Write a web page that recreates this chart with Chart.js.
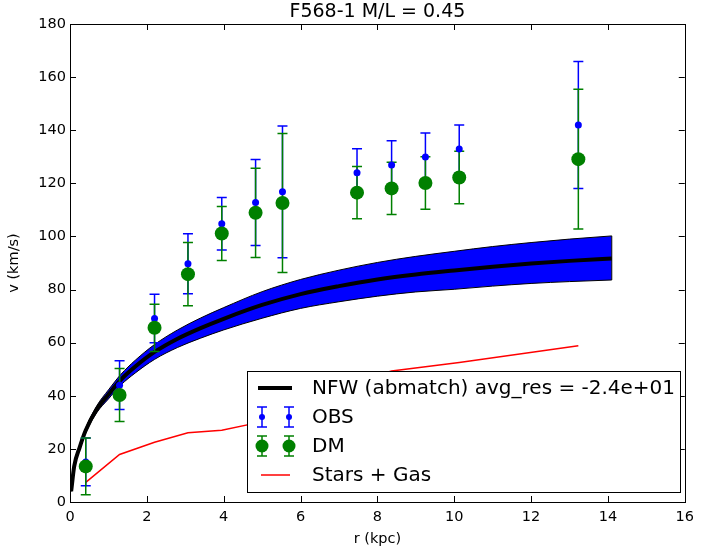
<!DOCTYPE html>
<html>
<head>
<meta charset="utf-8">
<script src="https://cdn.jsdelivr.net/npm/chart.js@4"></script>
<style>
html, body { margin: 0; padding: 0; background: #fff; }
</style>
</head>
<body>
<canvas id="myChart" width="701" height="552"></canvas>
<script>
// DATA
var radius   = [0.41, 1.29, 2.2, 3.07, 3.95, 4.83, 5.53, 7.47, 8.37, 9.25, 10.13, 13.23];
var obsVel   = [15.1, 44.0, 69.1, 89.7, 104.8, 112.8, 116.8, 124.0, 126.9, 129.9, 132.9, 142.0];
var obsErr   = [9.0, 9.2, 9.1, 11.3, 9.9, 16.2, 24.8, 9.0, 9.1, 9.1, 9.1, 23.9];
var dmVel    = [13.4, 40.3, 65.6, 85.8, 101.1, 108.9, 112.6, 116.5, 118.1, 120.1, 122.2, 129.1];
var dmErr    = [10.7, 10.0, 8.9, 11.9, 10.2, 16.8, 26.2, 9.8, 9.8, 9.9, 9.9, 26.3];
var starsGas = [7.4, 17.9, 22.5, 26.1, 27.0, 29.7, 35.0, 45.5, 49.3, 50.9, 52.5, 58.8];

var nfwRadius = [0.03, 0.11, 0.25, 0.41, 0.7, 1.0, 1.32, 1.7, 2.2, 2.8, 3.4, 4.0, 5.0, 6.0, 7.0, 8.0, 9.0, 10.0, 11.0, 12.0, 13.0, 14.1];
var nfwVel    = [4.0, 13.5, 20.5, 27.0, 35.0, 40.5, 46.0, 51.0, 56.5, 61.5, 65.5, 69.0, 74.2, 78.3, 81.3, 83.8, 85.7, 87.2, 88.6, 89.8, 90.8, 91.7];
var nfwUpper  = [4.0, 13.8, 21.1, 27.9, 36.3, 42.2, 48.0, 53.4, 59.3, 64.8, 69.3, 73.2, 79.2, 83.8, 87.3, 90.2, 92.5, 94.4, 96.2, 97.7, 99.0, 100.2];
var nfwLower  = [4.0, 13.2, 19.9, 26.1, 33.7, 38.8, 44.0, 48.6, 53.7, 58.2, 61.7, 64.8, 69.2, 72.9, 75.4, 77.5, 79.1, 80.1, 81.3, 82.3, 83.0, 83.6];

var titleText = 'F568-1 M/L = 0.45';
var legendLabels = ['NFW (abmatch) avg_res = -2.4e+01', 'OBS', 'DM', 'Stars + Gas'];

var FONT = 'DejaVu Sans';

function pts(xs, ys) {
    return xs.map(function (v, i) { return { x: v, y: ys[i] }; });
}

function drawErrBar(ctx, px, top, bottom, color) {
    ctx.strokeStyle = color;
    ctx.lineWidth = 1.5;
    ctx.beginPath();
    ctx.moveTo(px, top); ctx.lineTo(px, bottom);
    ctx.moveTo(px - 5, top); ctx.lineTo(px + 5, top);
    ctx.moveTo(px - 5, bottom); ctx.lineTo(px + 5, bottom);
    ctx.stroke();
}

// band end edge + error bars (drawn just before the OBS markers)
var errorBars = {
    id: 'errorBars',
    afterDatasetDraw: function (chart, args) {
        if (args.index !== 3) return;
        var ctx = chart.ctx, x = chart.scales.x, y = chart.scales.y;
        var n = nfwRadius.length - 1;
        var px = x.getPixelForValue(nfwRadius[n]);
        ctx.save();
        ctx.strokeStyle = '#000';
        ctx.lineWidth = 1;
        ctx.beginPath();
        ctx.moveTo(px, y.getPixelForValue(nfwUpper[n]));
        ctx.lineTo(px, y.getPixelForValue(nfwLower[n]));
        ctx.stroke();
        ctx.restore();
    },
    beforeDatasetDraw: function (chart, args) {
        if (args.index !== 0) return;
        var ctx = chart.ctx, x = chart.scales.x, y = chart.scales.y;
        ctx.save();
        radius.forEach(function (r, i) {
            var px = x.getPixelForValue(r);
            drawErrBar(ctx, px, y.getPixelForValue(obsVel[i] + obsErr[i]), y.getPixelForValue(obsVel[i] - obsErr[i]), '#0000ff');
        });
        radius.forEach(function (r, i) {
            var px = x.getPixelForValue(r);
            drawErrBar(ctx, px, y.getPixelForValue(dmVel[i] + dmErr[i]), y.getPixelForValue(dmVel[i] - dmErr[i]), '#008000');
        });
        ctx.restore();
    }
};

// title, frame with inward ticks, legend box
var frameAndLegend = {
    id: 'frameAndLegend',
    afterDraw: function (chart) {
        var ctx = chart.ctx, a = chart.chartArea, x = chart.scales.x, y = chart.scales.y;
        ctx.save();
        ctx.fillStyle = '#000';
        ctx.font = '19px "' + FONT + '"';
        ctx.textAlign = 'center';
        ctx.textBaseline = 'middle';
        ctx.fillText(titleText, (a.left + a.right) / 2, 12);

        ctx.strokeStyle = '#000';
        ctx.lineWidth = 1;
        ctx.beginPath();
        x.ticks.forEach(function (t) {
            var px = Math.round(x.getPixelForValue(t.value)) + 0.5;
            ctx.moveTo(px, a.bottom); ctx.lineTo(px, a.bottom - 6);
            ctx.moveTo(px, a.top); ctx.lineTo(px, a.top + 6);
        });
        y.ticks.forEach(function (t) {
            var py = Math.round(y.getPixelForValue(t.value)) + 0.5;
            ctx.moveTo(a.left, py); ctx.lineTo(a.left + 6, py);
            ctx.moveTo(a.right, py); ctx.lineTo(a.right - 6, py);
        });
        ctx.stroke();
        ctx.strokeRect(Math.round(a.left) + 0.5, Math.round(a.top) + 0.5, Math.round(a.right - a.left), Math.round(a.bottom - a.top));

        // legend
        var lx = 247.5, ly = 371.5, lw = 433, lh = 121;
        ctx.fillStyle = '#fff';
        ctx.fillRect(lx, ly, lw, lh);
        ctx.strokeRect(lx, ly, lw, lh);
        var rows = [388, 417, 446, 475];

        ctx.strokeStyle = '#000'; ctx.lineWidth = 4;
        ctx.beginPath(); ctx.moveTo(258, rows[0]); ctx.lineTo(292, rows[0]); ctx.stroke();

        [262, 289].forEach(function (px) {
            drawErrBar(ctx, px, rows[1] - 10, rows[1] + 10, '#0000ff');
            ctx.fillStyle = '#0000ff';
            ctx.beginPath(); ctx.arc(px, rows[1], 3, 0, Math.PI * 2); ctx.fill();
            drawErrBar(ctx, px, rows[2] - 10, rows[2] + 10, '#008000');
            ctx.fillStyle = '#008000';
            ctx.beginPath(); ctx.arc(px, rows[2], 6.5, 0, Math.PI * 2); ctx.fill();
        });

        ctx.strokeStyle = '#ff0000'; ctx.lineWidth = 1.5;
        ctx.beginPath(); ctx.moveTo(261, rows[3]); ctx.lineTo(290, rows[3]); ctx.stroke();

        ctx.fillStyle = '#000';
        ctx.font = '20px "' + FONT + '"';
        ctx.textAlign = 'left';
        ctx.textBaseline = 'middle';
        legendLabels.forEach(function (s, i) { ctx.fillText(s, 312, rows[i] + 1); });
        ctx.restore();
    }
};

var ctx = document.getElementById('myChart').getContext('2d');
var chart = new Chart(ctx, {
    type: 'scatter',
    data: {
        datasets: [{
            label: 'OBS',
            data: pts(radius, obsVel),
            backgroundColor: '#0000ff',
            borderWidth: 0,
            pointRadius: 3.5,
            order: 1
        }, {
            label: 'DM',
            data: pts(radius, dmVel),
            backgroundColor: '#008000',
            borderWidth: 0,
            pointRadius: 7,
            order: 0
        }, {
            label: 'NFW',
            data: pts(nfwRadius, nfwVel),
            showLine: true,
            cubicInterpolationMode: 'monotone',
            borderColor: '#000',
            borderWidth: 4,
            pointRadius: 0,
            order: 3
        }, {
            label: 'NFW upper',
            data: pts(nfwRadius, nfwUpper),
            showLine: true,
            cubicInterpolationMode: 'monotone',
            borderColor: '#000',
            borderWidth: 1,
            backgroundColor: '#0000ff',
            fill: '+1',
            pointRadius: 0,
            order: 6
        }, {
            label: 'NFW lower',
            data: pts(nfwRadius, nfwLower),
            showLine: true,
            cubicInterpolationMode: 'monotone',
            borderColor: '#000',
            borderWidth: 1,
            pointRadius: 0,
            order: 5
        }, {
            label: 'Stars + Gas',
            data: pts(radius, starsGas),
            showLine: true,
            borderColor: '#ff0000',
            borderWidth: 1.5,
            pointRadius: 0,
            order: 4
        }]
    },
    options: {
        responsive: false,
        devicePixelRatio: 1,
        animation: false,
        layout: { padding: { left: 0, right: 12, top: 24, bottom: 0 } },
        plugins: {
            legend: { display: false },
            tooltip: { enabled: false },
            title: { display: false }
        },
        scales: {
            x: {
                type: 'linear',
                min: 0, max: 16,
                grid: { display: false, drawTicks: false },
                border: { display: false },
                ticks: { stepSize: 2, color: '#000', padding: 7, font: { family: FONT, size: 14.5 } },
                title: { display: true, text: 'r (kpc)', color: '#000', font: { family: FONT, size: 14.5 }, padding: { top: 0, bottom: 4 } },
                afterFit: function (s) { s.height = 50; }
            },
            y: {
                type: 'linear',
                min: 0, max: 180,
                grid: { display: false, drawTicks: false },
                border: { display: false },
                ticks: { stepSize: 20, color: '#000', padding: 4, font: { family: FONT, size: 14.5 } },
                title: { display: true, text: 'v (km/s)', color: '#000', font: { family: FONT, size: 14.5 }, padding: { top: 6, bottom: 0 } },
                afterFit: function (s) { s.width = 70; }
            }
        }
    },
    plugins: [errorBars, frameAndLegend]
});
</script>
</body>
</html>
